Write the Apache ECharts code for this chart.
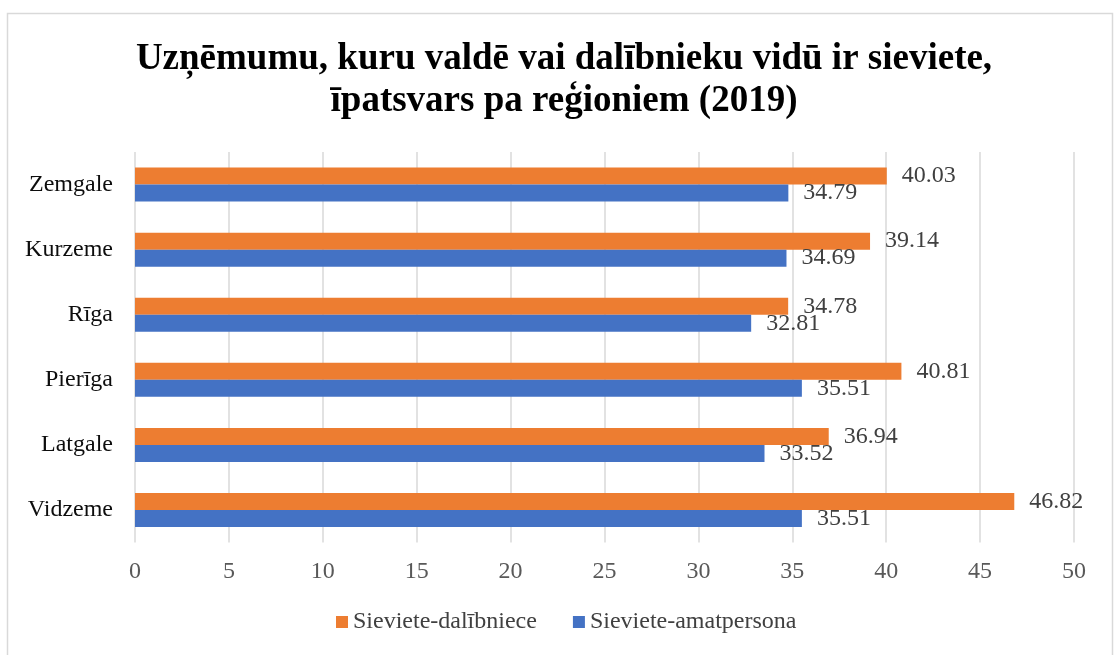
<!DOCTYPE html>
<html>
<head>
<meta charset="utf-8">
<script src="https://cdn.jsdelivr.net/npm/echarts@6/dist/echarts.min.js"></script>
<style>
  html, body { margin: 0; padding: 0; background: #fff; }
  #main { width: 1115px; height: 655px; }
</style>
</head>
<body>
<div id="main"></div>
<script>
// reģioni (no apakšas uz augšu)
const regions = ["Vidzeme", "Latgale", "Pierīga", "Rīga", "Kurzeme", "Zemgale"];
const dalibniece = [46.82, 36.94, 40.81, 34.78, 39.14, 40.03];
const amatpersona = [35.51, 33.52, 35.51, 32.81, 34.69, 34.79];
const seriesNames = ["Sieviete-dalībniece", "Sieviete-amatpersona"];
const colors = ["#ED7D31", "#4472C4"];

const font = "'Liberation Serif', 'Times New Roman', serif";

const chart = echarts.init(document.getElementById("main"));

function barSeries(name, data, color) {
  return {
    name: name,
    type: "bar",
    data: data,
    barWidth: 17,
    barGap: "0%",
    itemStyle: { color: color },
    label: {
      show: true,
      position: "right",
      distance: 15,
      color: "#404040",
      fontFamily: font,
      fontSize: 24,
      formatter: (p) => p.value.toFixed(2)
    }
  };
}

chart.setOption({
  animation: false,
  title: {
    text: "Uzņēmumu, kuru valdē vai dalībnieku vidū ir sieviete,\nīpatsvars pa reģioniem (2019)",
    left: 559,
    top: 33,
    textAlign: "center",
    textStyle: {
      fontFamily: font,
      fontWeight: "bold",
      fontSize: 37,
      lineHeight: 42,
      color: "#000"
    }
  },
  graphic: [{
    type: "rect",
    shape: { x: 7.5, y: 13.5, width: 1105, height: 700 },
    style: { fill: null, stroke: "#d9d9d9", lineWidth: 1.5 },
    silent: true
  }],
  legend: {
    bottom: 16,
    left: 331,
    itemWidth: 12,
    itemHeight: 12,
    itemGap: 36,
    icon: "rect",
    textStyle: { fontFamily: font, fontSize: 24, color: "#404040" },
    data: seriesNames
  },
  grid: { left: 135, right: 41, top: 152, bottom: 112.5 },
  xAxis: {
    type: "value",
    min: 0,
    max: 50,
    interval: 5,
    axisLine: { show: false },
    axisTick: { show: false },
    splitLine: { lineStyle: { color: "#d9d9d9", width: 1.5 } },
    axisLabel: { color: "#595959", fontFamily: font, fontSize: 24, margin: 17 }
  },
  yAxis: {
    type: "category",
    data: regions,
    axisLine: { show: false },
    axisTick: { show: false },
    axisLabel: { color: "#0d0d0d", fontFamily: font, fontSize: 24, margin: 22 }
  },
  series: [
    barSeries(seriesNames[0], dalibniece, colors[0]),
    barSeries(seriesNames[1], amatpersona, colors[1])
  ]
});
</script>
</body>
</html>
